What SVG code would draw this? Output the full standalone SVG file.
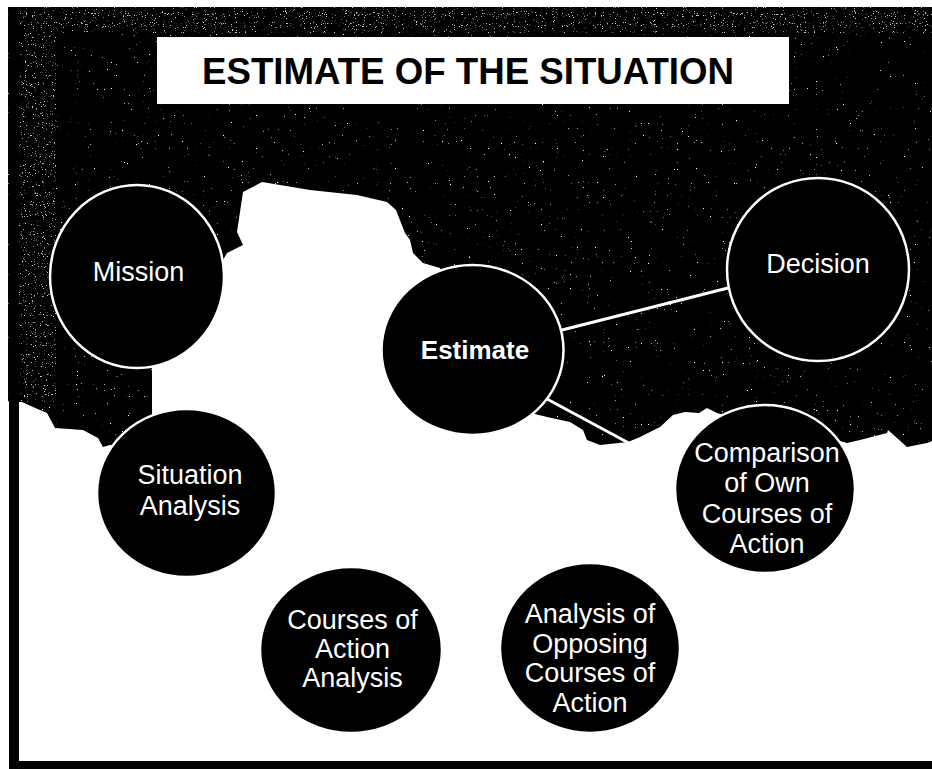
<svg xmlns="http://www.w3.org/2000/svg" width="932" height="769" viewBox="0 0 932 769">
<style>
.node{fill:#000;stroke:#fff;stroke-width:2.5}
.lbl{font-family:"Liberation Sans",Arial,Helvetica,sans-serif;font-size:27px;fill:#fff;text-anchor:middle}
.conn{stroke:#fff;stroke-width:3;fill:none}
</style>
<defs>
<filter id="speck" x="0" y="0" width="1" height="1" color-interpolation-filters="sRGB">
<feTurbulence type="fractalNoise" baseFrequency="0.85" numOctaves="2" seed="7" result="n"/>
<feColorMatrix in="n" type="matrix" values="0 0 0 0 1 0 0 0 0 1 0 0 0 0 1 14 0 0 0 -10.6" result="d"/>
<feComposite in="d" in2="SourceAlpha" operator="in" result="dm"/>
<feMerge><feMergeNode in="SourceGraphic"/><feMergeNode in="dm"/></feMerge>
</filter>
<filter id="speck2" x="0" y="0" width="1" height="1" color-interpolation-filters="sRGB">
<feTurbulence type="fractalNoise" baseFrequency="0.9" numOctaves="2" seed="11" result="n"/>
<feColorMatrix in="n" type="matrix" values="0 0 0 0 0.8 0 0 0 0 0.8 0 0 0 0 0.8 10 0 0 0 -6.6" result="d"/>
<feComposite in="d" in2="SourceAlpha" operator="in" result="dm"/>
<feMerge><feMergeNode in="SourceGraphic"/><feMergeNode in="dm"/></feMerge>
</filter>
</defs>
<rect x="0" y="0" width="932" height="769" fill="#fff"/>
<g id="background">
<path filter="url(#speck)" fill="#000" d="M8 7 L932 7 L932 441 L927 443 L907 447 L897 438 L888 430 L887 433 L860 440 L847 443 L800 430 L740 420 L717 413 L707 408 L699 413 L685 412 L673 415 L660 427 L640 437 L628 442 L600 445 L587 440 L583 430 L570 422 L547 417 L535 414 L470 350 L440 268 L423 263 L413 253 L410 240 L405 233 L396 210 L387 202 L357 195 L310 190 L262 182 L243 192 L237 232 L243 245 L227 253 L200 300 L152 366 L152 415 L150 450 L110 445 L103 447 L98 438 L83 430 L55 428 L47 413 L33 407 L22 402 L8 402 Z"/>
<rect x="8" y="7" width="48" height="395" fill="#000" filter="url(#speck2)"/>
<rect x="56" y="7" width="876" height="26" fill="#000" filter="url(#speck2)"/>
<rect x="9" y="7" width="10" height="762" fill="#000"/>
<rect x="9" y="761" width="923" height="8" fill="#000"/>
</g>
<g id="title">
<rect x="157" y="37" width="632" height="67" fill="#fff"/>
<text x="202" y="84" font-family="'Liberation Sans',Arial,Helvetica,sans-serif" font-size="37" font-weight="bold" fill="#000" textLength="532" lengthAdjust="spacingAndGlyphs">ESTIMATE OF THE SITUATION</text>
</g>
<g id="connectors">
<line class="conn" x1="562" y1="330" x2="728" y2="288"/>
<line class="conn" x1="547" y1="399" x2="677" y2="469"/>
</g>
<g id="mission">
<ellipse class="node" cx="137" cy="276.5" rx="87" ry="91.5"/>
<text class="lbl" x="138.5" y="281">Mission</text>
</g>
<g id="decision">
<ellipse class="node" cx="818" cy="269.5" rx="91" ry="91.5"/>
<text class="lbl" x="818" y="273">Decision</text>
</g>
<g id="estimate">
<ellipse class="node" cx="472.5" cy="350" rx="91" ry="85"/>
<text class="lbl" x="475" y="359" style="font-size:26px;font-weight:bold">Estimate</text>
</g>
<g id="situation-analysis">
<ellipse class="node" cx="186.5" cy="493" rx="89.5" ry="84"/>
<text class="lbl" x="190" y="484">Situation</text>
<text class="lbl" x="190" y="515">Analysis</text>
</g>
<g id="comparison">
<ellipse class="node" cx="765" cy="489" rx="90" ry="84"/>
<text class="lbl" x="767" y="462">Comparison</text>
<text class="lbl" x="767" y="492">of Own</text>
<text class="lbl" x="767" y="523">Courses of</text>
<text class="lbl" x="767" y="553">Action</text>
</g>
<g id="courses-of-action-analysis">
<ellipse class="node" cx="351" cy="650" rx="91" ry="83"/>
<text class="lbl" x="352.5" y="629">Courses of</text>
<text class="lbl" x="352.5" y="658">Action</text>
<text class="lbl" x="352.5" y="687">Analysis</text>
</g>
<g id="opposing-analysis">
<ellipse class="node" cx="590" cy="648" rx="90" ry="85"/>
<text class="lbl" x="590" y="623">Analysis of</text>
<text class="lbl" x="590" y="652.5">Opposing</text>
<text class="lbl" x="590" y="682">Courses of</text>
<text class="lbl" x="590" y="711.5">Action</text>
</g>
</svg>
